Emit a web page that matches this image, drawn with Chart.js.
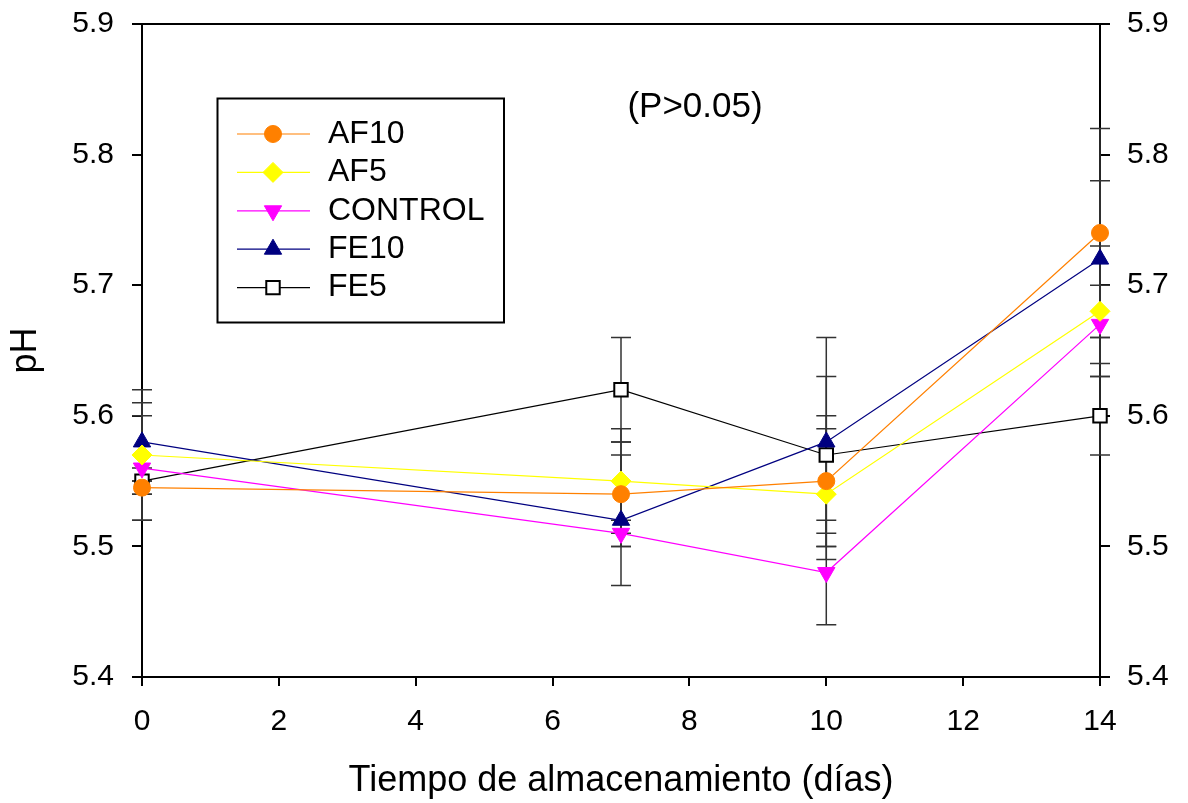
<!DOCTYPE html>
<html>
<head>
<meta charset="utf-8">
<script src="https://cdn.jsdelivr.net/npm/chart.js@4/dist/chart.umd.min.js"></script>
<style>
  html, body { margin: 0; padding: 0; background: #fff; }
  canvas { display: block; }
</style>
</head>
<body>
<canvas id="grafico-ph" width="1188" height="803"></canvas>
<script>
// Días de almacenamiento
const dias = [0, 7, 10, 14];

// pH medio por tratamiento
const af10 = [5.545, 5.54, 5.55, 5.74];
const af5 = [5.57, 5.55, 5.54, 5.68];
const control = [5.56, 5.51, 5.48, 5.67];
const fe10 = [5.58, 5.52, 5.58, 5.72];
const fe5 = [5.55, 5.62, 5.57, 5.60];

// Desviación (barras de error)
const errAf10 = [0.005, 0.04, 0.05, 0.08];
const errAf5 = [0.05, 0.04, 0.05, 0.05];
const errControl = [0.04, 0.01, 0.04, 0.03];
const errFe10 = [0.03, 0.05, 0.08, 0.06];
const errFe5 = [0.01, 0.04, 0.06, 0.03];

const ticksX = [0, 2, 4, 6, 8, 10, 12, 14];
const ticksY = [5.4, 5.5, 5.6, 5.7, 5.8, 5.9];

const FUENTE = "'Liberation Sans', Arial, sans-serif";

function serie(label, valores, errores, color, estilo, extra) {
    return Object.assign({
        label: label,
        data: dias.map((d, i) => ({ x: d, y: valores[i] })),
        errores: errores,
        borderColor: color,
        backgroundColor: color,
        borderWidth: 1.2,
        pointStyle: estilo,
        pointBackgroundColor: color,
        pointBorderColor: color,
        pointBorderWidth: 1,
        pointRadius: 10,
        tension: 0,
        clip: false
    }, extra || {});
}

const datasets = [
    serie('AF10', af10, errAf10, '#ff8000', 'circle', { pointRadius: 8.5 }),
    serie('AF5', af5, errAf5, '#ffff00', 'rectRot'),
    serie('CONTROL', control, errControl, '#ff00ff', 'triangle', { pointRotation: 180 }),
    serie('FE10', fe10, errFe10, '#000080', 'triangle'),
    serie('FE5', fe5, errFe5, '#000000', 'rect', { pointBackgroundColor: '#ffffff', pointBorderWidth: 2, pointRadius: 9.5 })
];

// Barras de error, debajo de los marcadores
const barrasError = {
    id: 'barrasError',
    beforeDatasetsDraw(chart) {
        const { ctx, scales: { x, y } } = chart;
        ctx.save();
        ctx.strokeStyle = '#333';
        ctx.lineWidth = 1.5;
        chart.data.datasets.forEach(ds => {
            ds.data.forEach((p, i) => {
                const e = ds.errores[i];
                const px = x.getPixelForValue(p.x);
                const yA = y.getPixelForValue(p.y + e);
                const yB = y.getPixelForValue(p.y - e);
                ctx.beginPath();
                ctx.moveTo(px, yA); ctx.lineTo(px, yB);
                ctx.moveTo(px - 10, yA); ctx.lineTo(px + 10, yA);
                ctx.moveTo(px - 10, yB); ctx.lineTo(px + 10, yB);
                ctx.stroke();
            });
        });
        ctx.restore();
    }
};

// Marco superior, texto de significación y leyenda
const extras = {
    id: 'extras',
    afterDraw(chart) {
        const { ctx, chartArea } = chart;
        ctx.save();
        ctx.strokeStyle = '#000';
        ctx.lineWidth = 2;
        ctx.beginPath();
        ctx.moveTo(chartArea.left, chartArea.top);
        ctx.lineTo(chartArea.right, chartArea.top);
        ctx.stroke();

        ctx.fillStyle = '#000';
        ctx.font = '35px ' + FUENTE;
        ctx.textAlign = 'center';
        ctx.textBaseline = 'middle';
        ctx.fillText('(P>0.05)', 695, 107);

        // Leyenda
        ctx.lineWidth = 2;
        ctx.strokeRect(217.5, 98.5, 286.5, 224);
        ctx.font = '32px ' + FUENTE;
        ctx.textAlign = 'left';
        chart.data.datasets.forEach((ds, i) => {
            const yy = 134 + i * 38.4;
            ctx.strokeStyle = ds.borderColor;
            ctx.lineWidth = 1.2;
            ctx.beginPath();
            ctx.moveTo(237, yy); ctx.lineTo(310, yy);
            ctx.stroke();
            ctx.fillStyle = ds.pointBackgroundColor;
            ctx.strokeStyle = ds.pointBorderColor;
            ctx.lineWidth = ds.pointBorderWidth;
            Chart.helpers.drawPoint(ctx, {
                pointStyle: ds.pointStyle,
                radius: ds.pointRadius,
                rotation: ds.pointRotation || 0,
                borderWidth: ds.pointBorderWidth
            }, 273, yy);
            ctx.fillStyle = '#000';
            ctx.fillText(ds.label, 328, yy);
        });
        ctx.restore();
    }
};

const ejeY = (pos, ancho, relleno) => ({
    type: 'linear',
    position: pos,
    min: 5.4,
    max: 5.9,
    afterBuildTicks: s => { s.ticks = ticksY.map(v => ({ value: v })); },
    afterFit: s => { s.width = ancho; s.paddingTop = 0; s.paddingBottom = 0; },
    ticks: {
        color: '#000',
        padding: relleno,
        font: { family: FUENTE, size: 30 },
        callback: v => v.toFixed(1)
    },
    grid: { drawOnChartArea: false, drawTicks: true, tickLength: 10, color: '#000', lineWidth: 2 },
    border: { display: true, color: '#000', width: 2 }
});

const ctx = document.getElementById('grafico-ph').getContext('2d');
new Chart(ctx, {
    type: 'line',
    data: { datasets: datasets },
    options: {
        responsive: false,
        animation: false,
        layout: { padding: { top: 24, left: 0, right: 0, bottom: 0 } },
        plugins: { legend: { display: false }, tooltip: { enabled: false } },
        scales: {
            x: {
                type: 'linear',
                min: 0,
                max: 14,
                afterBuildTicks: s => { s.ticks = ticksX.map(v => ({ value: v })); },
                afterFit: s => { s.height = 126; s.paddingLeft = 0; s.paddingRight = 0; },
                ticks: { color: '#000', padding: 18, font: { family: FUENTE, size: 30 } },
                grid: { drawOnChartArea: false, drawTicks: true, tickLength: 9, color: '#000', lineWidth: 2 },
                border: { display: true, color: '#000', width: 2 },
                title: {
                    display: true,
                    text: 'Tiempo de almacenamiento (días)',
                    color: '#000',
                    font: { family: FUENTE, size: 36 },
                    padding: { top: 0, bottom: 0 }
                }
            },
            y: Object.assign(ejeY('left', 142, 18), {
                title: {
                    display: true,
                    text: 'pH',
                    color: '#000',
                    font: { family: FUENTE, size: 36 },
                    padding: { top: 4, bottom: 0 }
                }
            }),
            y2: ejeY('right', 88, 17)
        }
    },
    plugins: [barrasError, extras]
});
</script>
</body>
</html>
